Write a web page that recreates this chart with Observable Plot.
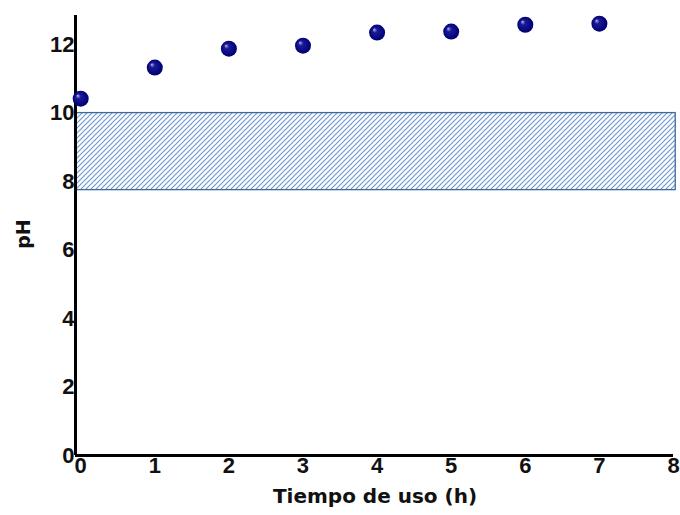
<!DOCTYPE html>
<html>
<head>
<meta charset="utf-8">
<script src="https://cdn.jsdelivr.net/npm/d3@7"></script>
<script src="https://cdn.jsdelivr.net/npm/@observablehq/plot@0.6"></script>
<style>
  html, body { margin: 0; padding: 0; background: #fff; }
  #chart svg { display: block; }
  #chart svg text.tk { font-family: 'Liberation Sans Narrow', 'Arial Narrow', sans-serif !important; font-size: 22px !important; font-weight: bold !important; }
</style>
</head>
<body>
<div id="chart"></div>
<script>
const hours = [0, 1, 2, 3, 4, 5, 6, 7];
const ph = [10.42, 11.33, 11.88, 11.97, 12.35, 12.38, 12.58, 12.61];
const bandLow = [7.75];
const bandHigh = [10];
const xTicks = [0, 1, 2, 3, 4, 5, 6, 7, 8];
const yTicks = [0, 2, 4, 6, 8, 10, 12];

const xMin = -0.07, xMax = 8, yMax = 12.85;
const points = hours.map((h, i) => ({h, ph: ph[i]}));
const band = bandLow.map((lo, i) => ({x1: xMin, x2: 8.03, y1: lo, y2: bandHigh[i]}));

const svg = Plot.plot({
  width: 680,
  height: 515,
  marginLeft: 75,
  marginRight: 7,
  marginTop: 15,
  marginBottom: 60,
  x: {domain: [xMin, xMax], ticks: xTicks, tickSize: 0, tickPadding: 2, label: null},
  y: {domain: [0, yMax], ticks: yTicks, tickSize: 0, tickPadding: 1, label: null},
  style: {background: "#fff", color: "#111", overflow: "visible"},
  marks: [
    Plot.rect(band, {x1: "x1", x2: "x2", y1: "y1", y2: "y2", fill: "url(#hatch)", stroke: "#41689a", strokeWidth: 1.3}),
    Plot.ruleX([xMin], {y1: 0, y2: yMax, stroke: "#000", strokeWidth: 3}),
    Plot.ruleY([0], {x1: xMin, x2: xMax, stroke: "#000", strokeWidth: 3}),
    Plot.axisX({ticks: xTicks, tickSize: 0, tickPadding: 2, label: null, tickFormat: d => String(d)}),
    Plot.axisY({ticks: yTicks, tickSize: 0, tickPadding: 1, label: null, tickFormat: d => String(d)}),
    Plot.dot(points, {x: "h", y: "ph", r: 8, fill: "url(#ball)", stroke: "none"})
  ]
});

const s = d3.select(svg);
s.selectAll("text").classed("tk", true);

const defs = s.insert("defs", ":first-child");
const pat = defs.append("pattern")
  .attr("id", "hatch").attr("patternUnits", "userSpaceOnUse")
  .attr("width", 5).attr("height", 5);
pat.append("rect").attr("width", 5).attr("height", 5).attr("fill", "#fff");
pat.append("path")
  .attr("d", "M0,5 L5,0 M-1,1 L1,-1 M4,6 L6,4")
  .attr("stroke", "#6f9ad0").attr("stroke-width", 1.2);
const grad = defs.append("radialGradient")
  .attr("id", "ball").attr("cx", "0.5").attr("cy", "0.5").attr("r", "0.5")
  .attr("fx", "0.3").attr("fy", "0.3");
grad.append("stop").attr("offset", "0").attr("stop-color", "#b8b8e8");
grad.append("stop").attr("offset", "0.3").attr("stop-color", "#1a1a99");
grad.append("stop").attr("offset", "1").attr("stop-color", "#000070");

// axis titles
s.append("text")
  .attr("x", 375).attr("y", 497)
  .attr("text-anchor", "middle").attr("dominant-baseline", "middle")
  .style("font", "bold 20px 'DejaVu Sans', Verdana, sans-serif")
  .attr("fill", "#111")
  .text("Tiempo de uso (h)");
s.append("text")
  .attr("transform", "translate(24,234) rotate(-90)")
  .attr("text-anchor", "middle").attr("dominant-baseline", "middle")
  .style("font", "bold 19px 'DejaVu Sans', Verdana, sans-serif")
  .attr("fill", "#111")
  .text("pH");

document.getElementById("chart").appendChild(svg);
</script>
</body>
</html>
